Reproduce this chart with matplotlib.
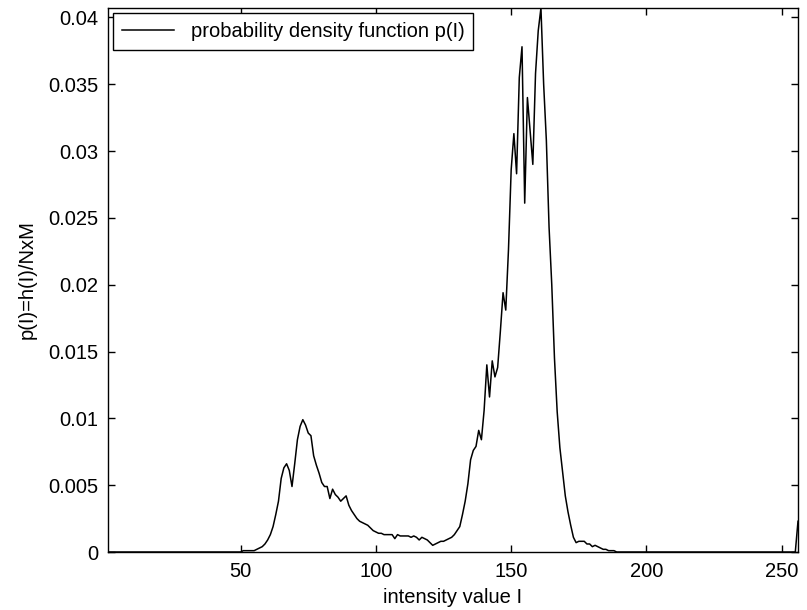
import matplotlib
matplotlib.use("Agg")
import matplotlib.pyplot as plt
import numpy as np

# histogram values p(I) for I = 1..256 (units of 1e-4)
zeros_low = [0] * 50                     # I = 1..50
p_mid = [                                # I = 51..188
    1, 1, 1, 1, 1, 2, 3, 4, 6, 9,
    13, 19, 28, 38, 55, 63, 66, 61, 49, 66,
    84, 94, 99, 95, 89, 87, 72, 65, 59, 52,
    49, 49, 40, 47, 43, 41, 38, 40, 42, 35,
    31, 28, 25, 23, 22, 21, 20, 18, 16, 15,
    14, 14, 13, 13, 13, 13, 10, 13, 12, 12,
    12, 12, 11, 12, 11, 9, 11, 10, 9, 7,
    5, 6, 7, 8, 8, 9, 10, 11, 13, 16,
    19, 28, 38, 51, 69, 76, 79, 91, 84, 106,
    140, 116, 143, 131, 138, 165, 194, 181, 226, 286,
    313, 283, 355, 378, 261, 340, 315, 290, 358, 390,
    407, 350, 308, 243, 200, 145, 105, 78, 60, 42,
    30, 20, 11, 7, 8, 8, 8, 6, 6, 4,
    5, 4, 3, 2, 2, 1, 1, 1,
]
zeros_high = [0] * 67                    # I = 189..255
p_last = [23]                            # I = 256

p = np.array(zeros_low + p_mid + zeros_high + p_last) * 1e-4
intensity = np.arange(1, len(p) + 1)

plt.rcParams["font.family"] = ["Liberation Sans", "DejaVu Sans"]
plt.rcParams["font.size"] = 14.5

fig = plt.figure(figsize=(8.07, 6.10), dpi=100, facecolor="white")
ax = fig.add_axes([108 / 807, 58 / 610, 690 / 807, 544 / 610])

ax.plot(intensity, p, color="black", linewidth=1.1,
        label="probability density function p(I)")

ax.set_xlim(1, 256)
ax.set_ylim(0, p.max())
ax.set_xticks([50, 100, 150, 200, 250])
ax.set_yticks(np.arange(0, 0.0401, 0.005))
ax.set_yticklabels(["0", "0.005", "0.01", "0.015", "0.02",
                    "0.025", "0.03", "0.035", "0.04"])
ax.tick_params(direction="in", length=5, width=1, top=True, right=True,
               pad=7, colors="black")
for s in ax.spines.values():
    s.set_linewidth(1.0)

ax.set_xlabel("intensity value I", labelpad=5)
ax.set_ylabel("p(I)=h(I)/NxM", labelpad=8)

leg = ax.legend(loc="upper left", bbox_to_anchor=(5 / 690, 1 - 5 / 544),
                borderaxespad=0, fancybox=False, edgecolor="black",
                framealpha=1, handlelength=2.6, handletextpad=0.8,
                borderpad=0.45)
leg.get_frame().set_linewidth(1.0)

fig.savefig("out.png", dpi=100, facecolor="white")
